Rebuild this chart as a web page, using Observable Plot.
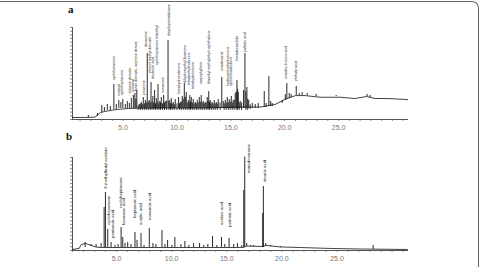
<!DOCTYPE html>
<html><head><meta charset="utf-8">
<script src="https://cdn.jsdelivr.net/npm/d3@7"></script>
<script src="https://cdn.jsdelivr.net/npm/@observablehq/plot@0.6"></script>
<style>
html,body{margin:0;padding:0;background:#fff;}
#wrap{position:relative;width:480px;height:267px;overflow:hidden;background:#fff;font-family:"Liberation Sans",Arial,sans-serif;}
#border{position:absolute;left:-10px;top:1px;width:489px;height:300px;box-sizing:border-box;border-top:1.5px solid #666;border-right:1.5px solid #666;border-top-right-radius:7px;}
.plt{position:absolute;left:0;}
.pl{position:absolute;font-family:"Liberation Serif","Times New Roman",serif;font-weight:bold;font-size:11px;color:#111;}
</style></head>
<body><div id="wrap"><div id="border"></div>
<div class="pl" style="left:68px;top:3px">a</div>
<div class="pl" style="left:66px;top:130px">b</div>
<div id="pa" class="plt" style="top:0px"></div>
<div id="pb" class="plt" style="top:135px"></div>
</div>
<script>
// retention time ticks (min)
const xTickLabels = [5, 10, 15, 20, 25];
const domainA = [0.3, 31.4];
const domainB = [1.0, 31.4];

// Panel a: peaks [time, base, top] (relative abundance)
const peaksA = [
[1.77,2.2,4.3],[2.61,3.3,6.5],[3.02,7.6,15.2],[3.26,8.7,13.0],[3.53,9.8,16.3],[3.81,9.8,14.1],
[4.14,10.9,38.0],[4.37,10.9,16.3],[4.60,12.0,20.7],[4.79,12.0,18.5],[4.97,12.0,21.7],[5.20,12.0,16.3],
[5.39,12.0,19.6],[5.58,12.0,17.4],[5.76,12.0,22.8],[5.95,12.0,26.1],[6.09,12.0,28.3],[6.18,12.0,22.0],[6.27,12.0,31.5],
[6.40,10.0,15.0],[6.50,12.0,16.3],[6.60,10.0,17.0],[6.69,12.0,18.5],[6.78,10.0,16.0],[6.87,12.0,23.9],[6.97,10.0,17.0],[7.06,12.0,20.7],[7.15,10.0,18.0],[7.24,12.0,71.7],[7.33,10.0,19.0],[7.43,12.0,20.7],
[7.51,10.0,18.0],[7.59,12.0,40.2],[7.68,10.0,19.0],[7.76,12.0,25.0],[7.84,10.0,18.0],[7.92,12.0,31.5],[8.00,10.0,17.0],[8.08,12.0,22.8],[8.16,10.0,19.0],[8.24,12.0,38.0],[8.32,10.0,17.0],[8.40,12.0,19.6],
[8.47,10.0,18.0],[8.54,12.0,23.9],[8.65,10.0,17.0],[8.76,12.0,26.1],[8.84,10.0,18.0],[8.91,12.0,19.6],[9.04,10.0,20.0],[9.17,12.0,85.9],[9.25,10.0,19.0],[9.33,12.0,20.7],[9.40,10.0,17.0],[9.47,12.0,22.8],
[9.56,10.0,17.0],[9.66,12.0,18.5],[9.75,10.0,16.0],[9.84,12.0,21.7],[10.0,10.0,17.0],[10.15,12.0,23.9],[10.23,10.0,17.0],[10.31,12.0,18.5],[10.40,10.0,19.0],[10.49,12.0,25.0],[10.58,10.0,22.0],[10.68,12.0,39.1],
[10.77,10.0,24.0],[10.86,12.0,29.3],[10.95,10.0,18.0],[11.05,12.0,20.7],[11.12,10.0,18.0],[11.19,12.0,26.1],[11.26,10.0,19.0],[11.33,12.0,23.9],[11.42,10.0,18.0],[11.51,12.0,21.7],[11.60,10.0,17.0],[11.70,12.0,18.5],
[11.79,10.0,17.0],[11.88,12.0,20.7],[11.97,10.0,18.0],[12.07,12.0,23.9],[12.16,10.0,19.0],[12.25,12.0,26.1],[12.34,10.0,18.0],[12.44,12.0,19.6],[12.53,10.0,17.0],[12.62,12.0,18.5],[12.71,10.0,18.0],[12.81,12.0,23.9],
[12.88,10.0,20.0],[12.95,12.0,30.4],[13.02,10.0,19.0],[13.09,12.0,20.7],[13.18,10.0,17.0],[13.27,12.0,18.5],[13.36,10.0,17.0],[13.46,12.0,20.7],[13.55,10.0,17.0],[13.65,12.0,18.5],[13.74,10.0,17.0],[13.83,12.0,21.7],
[14.0,10.0,18.0],[14.16,12.0,45.7],[14.29,12.0,19.6],[14.38,10.0,17.0],[14.48,12.0,20.7],[14.57,10.0,18.0],[14.67,12.0,23.9],[14.76,10.0,18.0],[14.85,12.0,21.7],[14.94,10.0,19.0],[15.04,12.0,25.0],
[15.13,10.0,18.0],[15.22,12.0,20.7],[15.31,10.0,21.0],[15.41,12.0,28.3],[15.50,10.0,30.0],[15.57,12.0,42.4],[15.63,10.0,33.0],[15.69,12.0,29.3],[15.78,10.0,18.0],[15.87,12.0,19.6],[16.0,10.0,18.0],[16.18,12.0,31.5],
[16.31,12.0,71.7],[16.40,10.0,30.0],[16.49,12.0,34.8],[16.57,10.0,22.0],[16.66,12.0,20.7],[16.80,11.0,16.0],[16.99,12.0,17.4],[17.26,12.0,16.3],[17.54,12.0,17.4],
[18.10,13.0,30.4],[18.28,13.0,17.4],[18.53,14.1,46.7],[18.70,14.1,19.6],[18.84,14.1,17.4],[19.77,17.4,20.7],
[20.05,20.7,27.2],[20.20,21.7,39.1],[20.42,22.8,28.3],[20.60,23.9,27.2],[21.07,26.1,35.9],[21.35,26.1,28.3],
[21.62,26.1,29.3],[22.09,26.1,28.3],[22.92,25.0,27.2],[24.78,25.0,26.1],[27.65,25.0,27.2],[27.93,23.9,26.1]
];
const baselineA = [
[0.3,2.2],[1.5,2.2],[2.4,2.6],[2.9,7.6],[3.3,8.7],[3.8,9.8],[4.5,11.0],[5.5,12.0],[8.0,12.5],[12.0,12.5],
[14.0,13.0],[16.0,13.5],[17.7,13.5],[19.1,16.3],[20.0,21.7],[21.0,26.0],[21.9,26.0],[23.3,24.2],[25.2,24.2],
[26.5,22.8],[27.6,25.0],[28.4,22.8],[29.5,22.8],[31.4,21.7]
];
const labelNamesA = ["cyclohexanone","octanal","cycloheptanone","toluene derivate","nonanal",
"furan derivate, isoprene derivat","pinanone","decanone","phenol methyl derivate","decanoic acid",
"cycloheptanone trimethyl","nonanone","dicyclopentadecane","hexahydroindanone","dihydroxyethyl furanone",
"tetramethylindanone","tetrahydroionone","caryophyllene","dimethyl methylethyl naphthalene","octadecanal",
"hydroxytetrahydroionone","cyclohexadecanol","hexadecanolide","palmitic acid","octadec-9-enoic acid","phthalic acid"];
const labelTimesA = [4.14,4.60,4.88,5.62,5.90,6.22,6.92,7.15,7.48,7.80,8.17,8.73,9.24,10.17,10.72,11.09,11.47,
12.25,12.95,14.16,14.71,14.99,15.55,16.29,20.09,21.02];
const labelYA = [41.3,23.9,25.0,27.2,28.3,29.3,25.0,77.2,48.9,42.4,57.6,27.2,89.1,26.1,38.0,35.9,31.5,
37.0,37.0,51.1,34.8,34.8,62.0,71.7,42.4,40.2];

// Panel b
const peaksB = [
[2.15,3.2,8.6],[2.69,4.3,6.5],[3.14,3.2,6.5],[3.60,3.2,7.5],[3.87,3.2,46.2],[3.99,3.2,62.4],[4.20,3.2,22.6],
[4.50,3.2,8.6],[4.86,3.2,5.4],[5.14,3.2,6.5],[5.41,3.2,24.7],[5.56,3.2,14.0],[5.77,3.2,7.5],[6.01,3.2,8.6],
[6.31,3.2,6.5],[6.67,3.2,19.4],[6.86,3.2,10.8],[7.22,3.2,18.3],[7.49,3.2,5.4],[7.97,3.2,23.7],[8.30,3.2,7.5],
[8.57,3.2,6.5],[9.12,3.2,21.5],[9.39,3.2,6.5],[9.63,3.2,10.8],[10.02,3.2,5.4],[10.29,3.2,14.0],[10.84,3.2,6.5],
[11.20,3.2,9.7],[11.56,3.2,5.4],[11.99,3.2,7.5],[12.53,3.2,7.5],[12.92,3.2,5.4],[13.28,3.2,6.5],[13.71,3.2,15.1],
[14.10,3.2,5.4],[14.52,3.2,14.0],[14.82,3.2,6.5],[15.21,3.2,12.9],[15.63,3.2,6.5],[15.97,3.2,7.5],[16.36,3.2,5.4],
[16.54,3.2,64.5],[16.63,3.2,100.5],[16.81,4.3,7.5],[17.17,4.3,5.4],[17.44,4.3,5.4],[18.26,3.2,39.8],[18.32,3.2,68.8],
[18.53,4.3,7.5],[18.98,4.3,5.4],[19.88,3.2,4.3],[28.28,1.1,5.4]
];
const baselineB = [
[1.0,1.1],[1.6,2.2],[1.79,6.5],[2.2,7.5],[2.7,5.4],[3.1,3.8],[3.6,3.2],[16.5,3.2],[16.8,4.8],[18.2,4.3],
[18.6,5.4],[19.9,3.8],[21.7,3.2],[24.4,2.2],[27.1,1.6],[31.4,1.1]
];
const labelNamesB = ["3-methylbutyl acetate","cyclohexanone","pentanoic acid","cycloheptanone","hexanoic acid",
"heptanoic acid","acrylic acid","nonanoic acid","azelaic acid","palmitic acid","nonadecanone","stearic acid"];
const labelTimesB = [4.00,4.30,4.60,5.34,5.64,6.61,7.22,7.97,14.52,15.27,17.02,18.44];
const labelYB = [64.5,25.8,11.8,44.1,25.8,33.3,25.8,31.2,25.8,23.7,81.7,72.0];

function panel(opts){
  const {peaks, baseline, names, times, ys, domain, height, mt, mb, fs} = opts;
  const labels = names.map((n,i)=>({n, t:times[i], y:ys[i]}));
  return Plot.plot({
    width: 480, height, marginLeft: 72, marginRight: 73, marginTop: mt, marginBottom: mb,
    style: {background: "transparent", fontFamily: "Liberation Sans, Arial, sans-serif"},
    x: {domain}, y: {domain: [0, 100]},
    marks: [
      Plot.axisY({ticks: d3.range(0, 101, 4), tickSize: 2, strokeWidth: 0.7, tickFormat: () => "", label: null, stroke: "#555"}),
      Plot.axisX({ticks: d3.range(Math.ceil(domain[0]), 32), tickSize: 2, strokeWidth: 0.7, tickFormat: () => "", label: null, stroke: "#666"}),
      Plot.axisX({ticks: xTickLabels, tickSize: 0, tickPadding: 6, tickFormat: d3.format(".1f"), label: null, fontSize: 7, fill: "#777"}),
      Plot.frame({anchor: "bottom", stroke: "#555"}),
      Plot.frame({anchor: "left", stroke: "#555"}),
      Plot.line(baseline, {x: d => d[0], y: d => d[1], stroke: "#111", strokeWidth: 0.8}),
      Plot.ruleX(peaks, {x: d => d[0], y1: d => d[1], y2: d => d[2], stroke: "#111", strokeWidth: 0.9}),
      Plot.text(labels, {x: "t", y: "y", text: "n", rotate: -90, textAnchor: "start", lineAnchor: "middle",
        fontSize: fs, fill: "#111", dy: -1.5})
    ]
  });
}
document.getElementById("pa").appendChild(panel({peaks: peaksA, baseline: baselineA, names: labelNamesA,
  times: labelTimesA, ys: labelYA, domain: domainA, height: 135, mt: 27, mb: 16, fs: 3.6}));
document.getElementById("pb").appendChild(panel({peaks: peaksB, baseline: baselineB, names: labelNamesB,
  times: labelTimesB, ys: labelYB, domain: domainB, height: 132, mt: 22, mb: 17, fs: 4.4}));
</script></body></html>
